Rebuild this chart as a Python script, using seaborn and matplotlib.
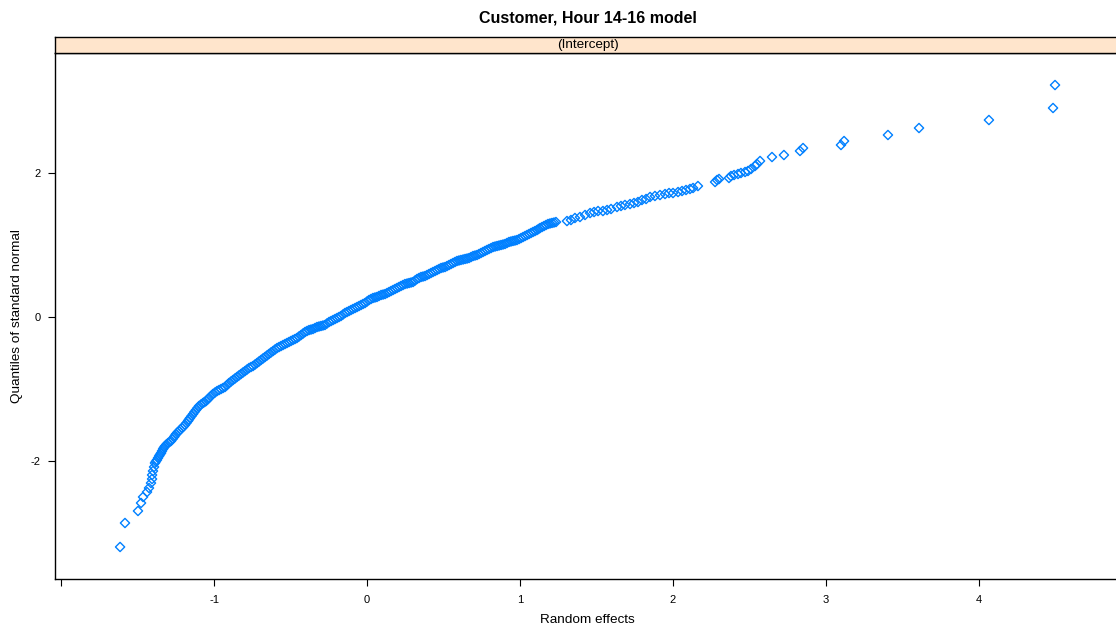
# -*- coding: utf-8 -*-
# Gráfico QQ de efectos aleatorios (estilo lattice) con seaborn
import matplotlib
matplotlib.use("Agg")
import matplotlib.pyplot as plt
import seaborn as sns
import pandas as pd

# Datos: efectos aleatorios (x) y cuantiles de la normal (y)
efectos = [
    -1.614, -1.582, -1.497, -1.477, -1.464, -1.438, -1.425, -1.412, -1.405, -1.405,
    -1.399, -1.392, -1.386, -1.373, -1.359, -1.346, -1.333, -1.320, -1.301, -1.281,
    -1.261, -1.248, -1.229, -1.209, -1.190, -1.170, -1.157, -1.137, -1.118, -1.098,
    -1.072, -1.052, -1.033, -1.007, -0.980, -0.954, -0.928, -0.902, -0.876, -0.850,
    -0.824, -0.797, -0.771, -0.745, -0.719, -0.693, -0.667, -0.641, -0.614, -0.588,
    -0.562, -0.536, -0.510, -0.484, -0.458, -0.431, -0.405, -0.379, -0.353, -0.327,
    -0.301, -0.275, -0.248, -0.222, -0.196, -0.170, -0.144, -0.118, -0.092, -0.065,
    -0.039, -0.013, 0.013, 0.039, 0.065, 0.092, 0.118, 0.144, 0.170, 0.196,
    0.222, 0.248, 0.275, 0.301, 0.327, 0.353, 0.379, 0.405, 0.431, 0.458,
    0.484, 0.510, 0.536, 0.562, 0.588, 0.614, 0.641, 0.667, 0.693, 0.719,
    0.745, 0.771, 0.797, 0.824, 0.850, 0.876, 0.902, 0.928, 0.954, 0.980,
    1.007, 1.033, 1.059, 1.085, 1.111, 1.131, 1.157, 1.183, 1.209, 1.235,
    1.307, 1.333, 1.359, 1.392, 1.425, 1.458, 1.484, 1.510, 1.542, 1.569,
    1.595, 1.634, 1.660, 1.686, 1.719, 1.745, 1.771, 1.797, 1.824, 1.850,
    1.882, 1.915, 1.948, 1.974, 2.000, 2.033, 2.059, 2.085, 2.111, 2.131,
    2.163, 2.275, 2.288, 2.301, 2.366, 2.379, 2.399, 2.425, 2.444, 2.471,
    2.490, 2.510, 2.536, 2.549, 2.569, 2.647, 2.725, 2.830, 2.850, 3.098,
    3.118, 3.405, 3.608, 4.065, 4.484, 4.497,
]
cuantiles = [
    -3.194, -2.861, -2.694, -2.583, -2.500, -2.431, -2.375, -2.306, -2.250, -2.194,
    -2.139, -2.083, -2.028, -1.986, -1.931, -1.889, -1.833, -1.792, -1.750, -1.722,
    -1.667, -1.625, -1.583, -1.542, -1.500, -1.444, -1.403, -1.347, -1.292, -1.236,
    -1.194, -1.167, -1.125, -1.069, -1.028, -1.000, -0.972, -0.917, -0.875, -0.833,
    -0.792, -0.750, -0.708, -0.681, -0.639, -0.597, -0.556, -0.514, -0.472, -0.431,
    -0.403, -0.375, -0.347, -0.319, -0.292, -0.250, -0.208, -0.181, -0.167, -0.139,
    -0.125, -0.111, -0.069, -0.042, -0.014, 0.014, 0.056, 0.083, 0.111, 0.139,
    0.167, 0.194, 0.236, 0.264, 0.278, 0.306, 0.319, 0.347, 0.375, 0.403,
    0.431, 0.458, 0.472, 0.486, 0.528, 0.556, 0.569, 0.597, 0.625, 0.653,
    0.681, 0.694, 0.722, 0.750, 0.778, 0.792, 0.806, 0.819, 0.847, 0.861,
    0.889, 0.917, 0.944, 0.972, 0.986, 1.000, 1.014, 1.042, 1.056, 1.069,
    1.097, 1.125, 1.153, 1.181, 1.208, 1.236, 1.264, 1.292, 1.306, 1.319,
    1.333, 1.347, 1.375, 1.389, 1.417, 1.444, 1.458, 1.472, 1.472, 1.486,
    1.500, 1.528, 1.542, 1.556, 1.569, 1.583, 1.597, 1.625, 1.639, 1.667,
    1.681, 1.694, 1.708, 1.722, 1.722, 1.736, 1.750, 1.764, 1.778, 1.792,
    1.819, 1.875, 1.903, 1.917, 1.931, 1.958, 1.972, 1.986, 2.000, 2.014,
    2.028, 2.056, 2.097, 2.125, 2.167, 2.222, 2.250, 2.306, 2.347, 2.389,
    2.444, 2.528, 2.625, 2.736, 2.903, 3.222,
]

# Puntos de la zona densa de la banda (entre x = -1.4 y 1.25)
efectos_banda = [
    -1.380, -1.366, -1.353, -1.340, -1.327, -1.311, -1.291, -1.271, -1.255, -1.239,
    -1.219, -1.200, -1.180, -1.164, -1.147, -1.128, -1.108, -1.085, -1.062, -1.043,
    -1.020, -0.994, -0.967, -0.941, -0.915, -0.889, -0.863, -0.837, -0.811, -0.784,
    -0.758, -0.732, -0.706, -0.680, -0.654, -0.628, -0.601, -0.575, -0.549, -0.523,
    -0.497, -0.471, -0.445, -0.418, -0.392, -0.366, -0.340, -0.314, -0.288, -0.262,
    -0.235, -0.209, -0.183, -0.157, -0.131, -0.105, -0.078, -0.052, -0.026, 0.000,
    0.026, 0.052, 0.078, 0.105, 0.131, 0.157, 0.183, 0.209, 0.235, 0.262,
    0.288, 0.314, 0.340, 0.366, 0.392, 0.418, 0.445, 0.471, 0.497, 0.523,
    0.549, 0.575, 0.601, 0.628, 0.654, 0.680, 0.706, 0.732, 0.758, 0.784,
    0.811, 0.837, 0.863, 0.889, 0.915, 0.941, 0.967, 0.994, 1.020, 1.046,
    1.072, 1.098, 1.121, 1.144, 1.170, 1.196, 1.222,
]
cuantiles_banda = [
    -2.007, -1.958, -1.910, -1.861, -1.812, -1.771, -1.736, -1.694, -1.646, -1.604,
    -1.562, -1.521, -1.472, -1.424, -1.375, -1.319, -1.264, -1.215, -1.181, -1.146,
    -1.097, -1.049, -1.014, -0.986, -0.945, -0.896, -0.854, -0.812, -0.771, -0.729,
    -0.694, -0.660, -0.618, -0.576, -0.535, -0.493, -0.451, -0.417, -0.389, -0.361,
    -0.333, -0.306, -0.271, -0.229, -0.194, -0.174, -0.153, -0.132, -0.118, -0.090,
    -0.056, -0.028, 0.000, 0.035, 0.069, 0.097, 0.125, 0.153, 0.181, 0.215,
    0.250, 0.271, 0.292, 0.312, 0.333, 0.361, 0.389, 0.417, 0.444, 0.465,
    0.479, 0.507, 0.542, 0.562, 0.583, 0.611, 0.639, 0.667, 0.688, 0.708,
    0.736, 0.764, 0.785, 0.799, 0.812, 0.833, 0.854, 0.875, 0.903, 0.931,
    0.958, 0.979, 0.993, 1.007, 1.028, 1.049, 1.062, 1.083, 1.111, 1.139,
    1.167, 1.194, 1.222, 1.250, 1.278, 1.299, 1.312,
]

titulo = "Customer, Hour 14-16 model"
etiqueta_panel = "(Intercept)"
ticks_x = [-2, -1, 0, 1, 2, 3, 4]
etiquetas_x = ["", "-1", "0", "1", "2", "3", "4"]
ticks_y = [-2, 0, 2]
etiquetas_y = ["-2", "0", "2"]

datos = pd.DataFrame({"efecto": efectos + efectos_banda,
                      "cuantil": cuantiles + cuantiles_banda})

sns.set_theme(style="white")
plt.rcParams["font.family"] = ["Liberation Sans", "DejaVu Sans"]
plt.rcParams["text.color"] = "black"

# Figura de 1116x628 px
W, H = 1116, 628
fig = plt.figure(figsize=(W / 100, H / 100), dpi=100)

# Posición del panel en píxeles (el borde derecho se sale de la imagen)
izq, der, arriba, abajo = 54.6, 1120.5, 52.7, 579.3
ax = fig.add_axes([izq / W, 1 - abajo / H, (der - izq) / W, (abajo - arriba) / H])

sns.scatterplot(data=datos, x="efecto", y="cuantil", ax=ax, marker="D", s=22,
                facecolor="none", edgecolor="#0080ff", linewidth=1.0)

ax.set_xlim(-2.042, 4.925)
ax.set_ylim(-3.643, 3.671)
ax.set_xticks(ticks_x)
ax.set_xticklabels(etiquetas_x)
ax.set_yticks(ticks_y)
ax.set_yticklabels(etiquetas_y)
ax.tick_params(axis="both", direction="out", length=5, width=0.8, labelsize=8,
               colors="black", bottom=True, left=True, top=False, right=False)
ax.tick_params(axis="x", pad=6)
ax.tick_params(axis="y", pad=5)
for s in ax.spines.values():
    s.set_color("black")
    s.set_linewidth(1.0)

ax.set_xlabel("Random effects", fontsize=9.7, color="black")
ax.set_ylabel("Quantiles of standard normal", fontsize=9.7, color="black")
ax.xaxis.set_label_coords(0.5, -0.077)
ax.xaxis.label.set_verticalalignment("center")
ax.yaxis.set_label_coords((17 - izq) / (der - izq), 0.5)
ax.yaxis.label.set_verticalalignment("center")

# Tira superior del panel (strip de lattice)
tira = fig.add_axes([izq / W, 1 - arriba / H, (der - izq) / W, 16 / H])
tira.set_facecolor("#ffe5cc")
tira.set_xticks([])
tira.set_yticks([])
for s in tira.spines.values():
    s.set_color("black")
    s.set_linewidth(1.0)
tira.text(0.5, 0.45, etiqueta_panel, ha="center", va="center", fontsize=9.7,
          color="black", transform=tira.transAxes)

fig.text((izq + der) / 2 / W, 1 - 18 / H, titulo, ha="center", va="center",
         fontsize=11.5, fontweight="bold", color="black")

fig.savefig("out.png", dpi=100)
